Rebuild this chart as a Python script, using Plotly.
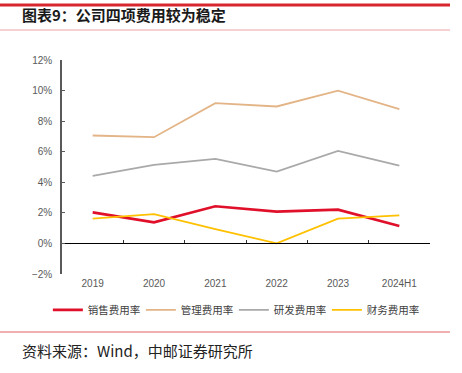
import plotly.graph_objects as go

categories = ["2019", "2020", "2021", "2022", "2023", "2024H1"]
sales_rate = [2.03, 1.38, 2.43, 2.08, 2.21, 1.14]
admin_rate = [7.06, 6.95, 9.18, 8.96, 9.99, 8.79]
rd_rate = [4.42, 5.14, 5.53, 4.70, 6.05, 5.09]
fin_rate = [1.62, 1.92, 0.94, 0.00, 1.62, 1.84]
y_ticks = [-2, 0, 2, 4, 6, 8, 10, 12]
y_tick_labels = ["−2%", "0%", "2%", "4%", "6%", "8%", "10%", "12%"]

series = [
    ("销售费用率", sales_rate, "#E0102A", 2.6),
    ("管理费用率", admin_rate, "#E3B486", 1.8),
    ("研发费用率", rd_rate, "#A9A9A9", 1.8),
    ("财务费用率", fin_rate, "#FFC000", 1.8),
]

fig = go.Figure()
for name, vals, color, w in series:
    fig.add_trace(go.Scatter(x=categories, y=vals, name=name, mode="lines",
                             line=dict(color=color, width=w), xaxis="x", yaxis="y"))

# invisible trace to activate the zero-line axis
fig.add_trace(go.Scatter(x=categories, y=[None]*len(categories), xaxis="x2", yaxis="y",
                         showlegend=False, hoverinfo="skip"))

tick_font = dict(family="Liberation Sans, Arial, sans-serif", size=10, color="#595959")
cjk = "Noto Sans CJK SC, sans-serif"

fig.update_layout(
    width=462, height=373,
    margin=dict(l=62, r=32, t=60, b=99, autoexpand=False),
    paper_bgcolor="white", plot_bgcolor="white",
    showlegend=True,
    legend=dict(orientation="h", x=0.467, xanchor="center", y=-0.1, yanchor="top",
                font=dict(family=cjk, size=10.5, color="#404040"),
                itemwidth=30, entrywidth=48, entrywidthmode="pixels",
                tracegroupgap=0, itemclick=False, bgcolor="rgba(0,0,0,0)"),
    xaxis=dict(type="category", range=[-0.5, 5.5], showline=False, showgrid=False,
               zeroline=False, ticks="", tickfont=tick_font, ticklabelstandoff=2),
    xaxis2=dict(type="category", range=[-0.5, 5.5], overlaying="x", anchor="free",
                position=2/14, showline=True, linecolor="#000000", linewidth=1.2,
                ticks="inside", ticklen=3, tickcolor="#333333", tickson="boundaries",
                showticklabels=False, showgrid=False, zeroline=False),
    yaxis=dict(range=[-2, 12], tickvals=y_ticks, ticktext=y_tick_labels,
               showline=True, linecolor="#595959", linewidth=1.5, ticks="inside",
               ticklen=3, tickcolor="#595959", showgrid=False, zeroline=False,
               tickfont=tick_font, ticklabelstandoff=6),
    shapes=[
        dict(type="line", xref="paper", yref="paper", x0=-62/368, x1=388/368,
             y0=1 + 55/214, y1=1 + 55/214, line=dict(color="#D7262E", width=3)),
        dict(type="line", xref="paper", yref="paper", x0=-62/368, x1=388/368,
             y0=1 + 30/214, y1=1 + 30/214, line=dict(color="#EBA3A3", width=1)),
        dict(type="line", xref="paper", yref="paper", x0=-62/368, x1=388/368,
             y0=-58/214, y1=-58/214, line=dict(color="#E06060", width=1)),
    ],
    annotations=[
        dict(text="<b>图表9：公司四项费用较为稳定</b>", xref="paper", yref="paper",
             x=-42/368, y=1 + 45/214, xanchor="left", yanchor="middle", showarrow=False,
             font=dict(family=cjk, size=15, color="#1a1a1a")),
        dict(text="资料来源：Wind，中邮证券研究所", xref="paper", yref="paper",
             x=-42/368, y=-76/214, xanchor="left", yanchor="middle", showarrow=False,
             font=dict(family=cjk, size=15, color="#222222")),
    ],
)

fig.write_html("out.html", config={"displayModeBar": False},
               post_script="document.body.style.margin='0';")
